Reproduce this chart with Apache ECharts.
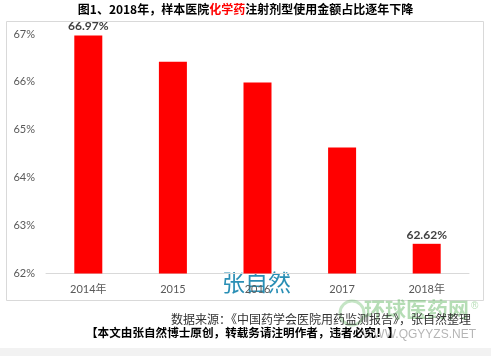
<!DOCTYPE html>
<html><head><meta charset="utf-8">
<script src="https://cdn.jsdelivr.net/npm/echarts@6/dist/echarts.min.js"></script>
<style>html,body{margin:0;padding:0;background:#fff}#c{width:491px;height:356px}</style>
</head><body><div id="c"></div>
<script>
const categories = ['2014年', '2015', '2016', '2017', '2018年'];
const shares = [66.97, 66.42, 65.99, 64.63, 62.62];
const labeledIdx = [0, 4];
const yTicks = {min: 62, max: 67, interval: 1};

const font = "Lato, 'Noto Sans CJK SC', sans-serif";
const cjk = "'Noto Sans CJK SC', sans-serif";
const chart = echarts.init(document.getElementById('c'));
chart.setOption({
  animation: false,
  backgroundColor: '#fff',
  grid: {left: 46, right: 22, top: 34, bottom: 82.5},
  xAxis: {
    type: 'category', data: categories,
    axisLine: {lineStyle: {color: '#d9d9d9'}},
    axisTick: {show: false},
    axisLabel: {color: '#595959', fontSize: 11, fontFamily: font, margin: 10}
  },
  yAxis: {
    type: 'value', min: yTicks.min, max: yTicks.max, interval: yTicks.interval,
    splitLine: {show: false}, axisLine: {show: false}, axisTick: {show: false},
    axisLabel: {formatter: '{value}%', color: '#595959', fontSize: 11, fontFamily: font, margin: 11}
  },
  series: [{
    type: 'bar', barWidth: 28,
    itemStyle: {color: '#ff0000'},
    data: shares.map((v, i) => ({
      value: v,
      label: {show: labeledIdx.includes(i)}
    })),
    label: {position: 'top', distance: 3, formatter: p => p.value.toFixed(2) + '%',
      color: '#404040', fontWeight: 'bold', fontSize: 12, fontFamily: font}
  }],
  graphic: [
    {type: 'rect', shape: {x: 6.5, y: 21.5, width: 477, height: 279}, style: {fill: 'none', stroke: '#d9d9d9', lineWidth: 1}, z: -1},
    {type: 'rect', shape: {x: 0, y: 348, width: 491, height: 8}, style: {fill: '#f2f2f2'}, z: -1},
    {type: 'text', left: 'center', top: 3, style: {
      rich: {a: {fill: '#000', fontWeight: 'bold', fontSize: 12, fontFamily: cjk},
             r: {fill: '#ff0000', fontWeight: 'bold', fontSize: 12, fontFamily: cjk}},
      text: '{a|图1、2018年，样本医院}{r|化学药}{a|注射剂型使用金额占比逐年下降}'}},
    {type: 'text', left: 222, top: 271, style: {text: '张自然', fill: '#2a8fb5', fontSize: 23, fontFamily: cjk}},
    {type: 'circle', shape: {cx: 352, cy: 313, r: 12}, style: {fill: 'none', stroke: 'rgba(90,180,90,0.35)', lineWidth: 3}},
    {type: 'text', left: 364, top: 299, style: {text: '环球医药网', fill: 'rgba(90,180,90,0.45)', fontSize: 21, fontWeight: 'bold', fontFamily: cjk}},
    {type: 'text', left: 471, top: 301, style: {text: '®', fill: 'rgba(90,180,90,0.45)', fontSize: 10}},
    {type: 'text', left: 362, top: 329, style: {text: 'WWW.QGYYZS.NET', fill: 'rgba(120,120,120,0.55)', fontSize: 12, fontFamily: 'Liberation Sans'}},
    {type: 'text', left: 171, top: 313, style: {text: '数据来源：《中国药学会医院用药监测报告》，张自然整理', fill: '#333', fontSize: 12, fontFamily: cjk}},
    {type: 'text', left: 86, top: 327, style: {text: '【本文由张自然博士原创，转载务请注明作者，违者必究！】', fill: '#000', fontSize: 11.6, fontWeight: 'bold', fontFamily: cjk}}
  ]
});
</script></body></html>
